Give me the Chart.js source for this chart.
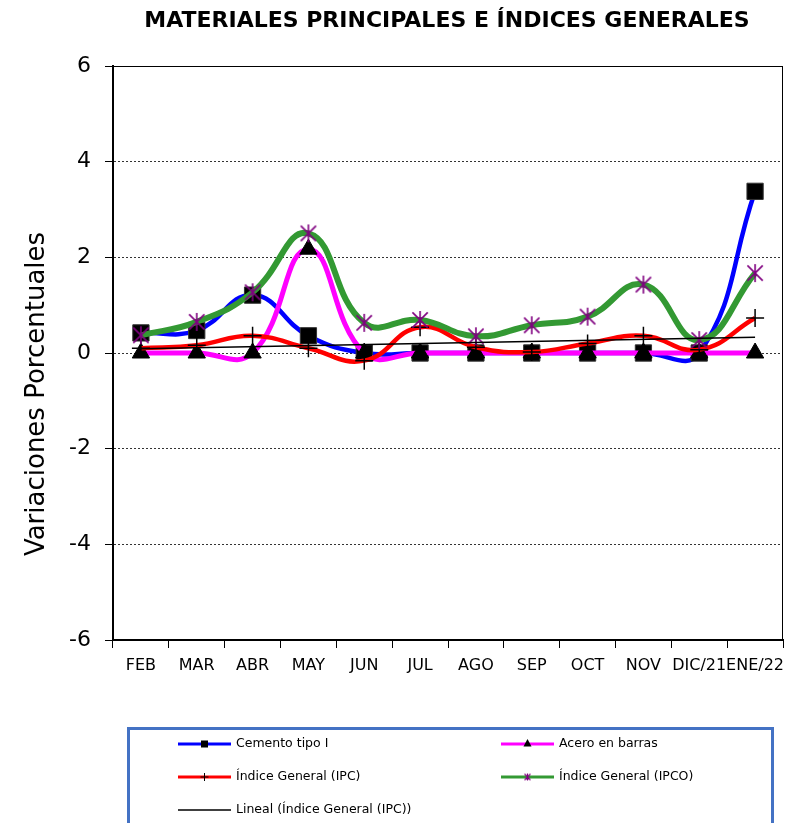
<!DOCTYPE html>
<html>
<head>
<meta charset="utf-8">
<script src="https://cdn.jsdelivr.net/npm/chart.js@4"></script>
<style>
  html, body { margin: 0; padding: 0; background: #fff; }
  #wrap { width: 800px; height: 823px; position: relative; overflow: hidden; }
</style>
</head>
<body>
<div id="wrap"><canvas id="chart" width="800" height="823"></canvas></div>
<script>
// Monthly variations (%)
const months = ['FEB', 'MAR', 'ABR', 'MAY', 'JUN', 'JUL', 'AGO', 'SEP', 'OCT', 'NOV', 'DIC/21', 'ENE/22'];
const cemento = [0.42, 0.47, 1.21, 0.36, 0, 0, 0, 0, 0, 0, 0, 3.38];
const acero = [0, 0, 0, 2.17, 0, 0, 0, 0, 0, 0, 0, 0];
const ipc = [0.10, 0.16, 0.36, 0.10, -0.16, 0.54, 0.12, 0.02, 0.20, 0.36, 0.07, 0.73];
const ipco = [0.37, 0.65, 1.27, 2.50, 0.63, 0.69, 0.35, 0.58, 0.76, 1.43, 0.27, 1.67];
// trend line: only its two ends are read, the line is straight between them
const linealIpc = [0.09, null, null, null, null, null, null, null, null, null, null, 0.33];
const yMin = -6, yMax = 6, yStep = 2;

const FONT = "'DejaVu Sans', sans-serif";

// Excel-like star marker: an X with a vertical bar
function makeStar(size, lw) {
  const c = document.createElement('canvas');
  c.width = size; c.height = size;
  const g = c.getContext('2d');
  const m = size / 2, r = size / 2 - 1;
  g.strokeStyle = '#800080';
  g.lineWidth = lw;
  g.beginPath();
  g.moveTo(m - r * 0.85, m - r * 0.85); g.lineTo(m + r * 0.85, m + r * 0.85);
  g.moveTo(m + r * 0.85, m - r * 0.85); g.lineTo(m - r * 0.85, m + r * 0.85);
  g.moveTo(m, m - r); g.lineTo(m, m + r);
  g.stroke();
  return c;
}
const starBig = makeStar(20, 1.6);
const starSmall = makeStar(9, 1.2);

const legendItems = [
  { label: 'Cemento tipo I', color: '#0000ff', marker: 'rect', col: 0, row: 0 },
  { label: 'Acero en barras', color: '#ff00ff', marker: 'triangle', col: 1, row: 0 },
  { label: 'Índice General (IPC)', color: '#ff0000', marker: 'cross', col: 0, row: 1 },
  { label: 'Índice General (IPCO)', color: '#339933', marker: 'star', col: 1, row: 1 },
  { label: 'Lineal (Índice General (IPC))', color: '#000000', marker: null, col: 0, row: 2 }
];

const extras = {
  id: 'extras',
  beforeDatasetsDraw(chart) {
    const { ctx, chartArea: a } = chart;
    ctx.save();
    ctx.strokeStyle = '#000';
    ctx.lineWidth = 1;
    ctx.strokeRect(a.left + 0.5, a.top + 0.5, a.right - a.left - 1, a.bottom - a.top);
    ctx.restore();
  },
  afterDraw(chart) {
    const { ctx } = chart;
    ctx.save();
    // title
    ctx.fillStyle = '#000';
    ctx.font = "bold 22px " + FONT;
    ctx.textAlign = 'center';
    ctx.textBaseline = 'middle';
    ctx.fillText('MATERIALES PRINCIPALES E ÍNDICES GENERALES', 447, 21);
    // y axis title
    ctx.save();
    ctx.translate(37, 394);
    ctx.rotate(-Math.PI / 2);
    ctx.font = "26px " + FONT;
    ctx.fillText('Variaciones Porcentuales', 0, 0);
    ctx.restore();
    // legend box
    ctx.strokeStyle = '#4472c4';
    ctx.lineWidth = 3;
    ctx.strokeRect(128.5, 728.5, 644, 120);
    ctx.font = "12.5px " + FONT;
    ctx.textAlign = 'left';
    legendItems.forEach(it => {
      const x0 = it.col === 0 ? 178 : 501;
      const y = 744 + it.row * 33;
      ctx.strokeStyle = it.color;
      ctx.lineWidth = it.marker ? 3 : 1.5;
      ctx.beginPath();
      ctx.moveTo(x0, y); ctx.lineTo(x0 + 53, y);
      ctx.stroke();
      const cx = x0 + 26.5;
      ctx.fillStyle = '#000';
      ctx.strokeStyle = '#000';
      ctx.lineWidth = 1;
      if (it.marker === 'rect') {
        ctx.fillRect(cx - 3.5, y - 3.5, 7, 7);
      } else if (it.marker === 'triangle') {
        ctx.beginPath();
        ctx.moveTo(cx, y - 5); ctx.lineTo(cx + 4, y + 2.5); ctx.lineTo(cx - 4, y + 2.5);
        ctx.closePath(); ctx.fill();
      } else if (it.marker === 'cross') {
        ctx.beginPath();
        ctx.moveTo(cx - 4, y); ctx.lineTo(cx + 4, y);
        ctx.moveTo(cx, y - 4); ctx.lineTo(cx, y + 4);
        ctx.stroke();
      } else if (it.marker === 'star') {
        ctx.drawImage(starSmall, cx - 4.5, y - 4.5);
      }
      ctx.fillStyle = '#000';
      ctx.fillText(it.label, x0 + 58, y);
    });
    ctx.restore();
  }
};

new Chart(document.getElementById('chart'), {
  type: 'line',
  data: {
    labels: months,
    datasets: [
      {
        label: 'Cemento tipo I', data: cemento, order: 5,
        borderColor: '#0000ff', borderWidth: 4.5, tension: 0.45,
        pointStyle: 'rect', pointRadius: 11.5, pointBackgroundColor: '#000', pointBorderColor: '#333', pointBorderWidth: 1
      },
      {
        label: 'Acero en barras', data: acero, order: 4,
        borderColor: '#ff00ff', borderWidth: 5, tension: 0.45,
        pointStyle: 'triangle', pointRadius: 10, pointBackgroundColor: '#000', pointBorderColor: '#000', pointBorderWidth: 1
      },
      {
        label: 'Índice General (IPC)', data: ipc, order: 3,
        borderColor: '#ff0000', borderWidth: 4.5, tension: 0.45,
        pointStyle: 'cross', pointRadius: 9, pointBorderColor: '#000', pointBorderWidth: 1.5
      },
      {
        label: 'Índice General (IPCO)', data: ipco, order: 2,
        borderColor: '#339933', borderWidth: 6, tension: 0.45,
        pointStyle: starBig, pointRadius: 10
      },
      {
        label: 'Lineal (Índice General (IPC))', data: linealIpc, order: 1,
        borderColor: '#000', borderWidth: 1.5, tension: 0, spanGaps: true, pointRadius: 0
      }
    ]
  },
  options: {
    responsive: false,
    animation: false,
    layout: { padding: { top: 66, right: 17, left: 0, bottom: 0 } },
    plugins: {
      legend: { display: false },
      title: { display: false },
      tooltip: { enabled: false }
    },
    scales: {
      x: {
        offset: true,
        afterFit(scale) { scale.height = 183; },
        grid: { offset: true, drawOnChartArea: false, drawTicks: true, tickLength: 8, tickColor: '#000' },
        border: { display: true, color: '#000', width: 2 },
        ticks: { autoSkip: false, maxRotation: 0, padding: 8, color: '#000', font: { family: FONT, size: 16 } }
      },
      y: {
        min: yMin, max: yMax,
        afterFit(scale) { scale.width = 113; },
        grid: { color: '#333', lineWidth: 1, tickBorderDash: [], tickLength: 8, tickColor: '#000' },
        border: { display: true, color: '#000', width: 2, dash: [2, 2] },
        ticks: { stepSize: yStep, padding: 14, color: '#000', font: { family: FONT, size: 22 } }
      }
    }
  },
  plugins: [extras]
});
</script>
</body>
</html>
